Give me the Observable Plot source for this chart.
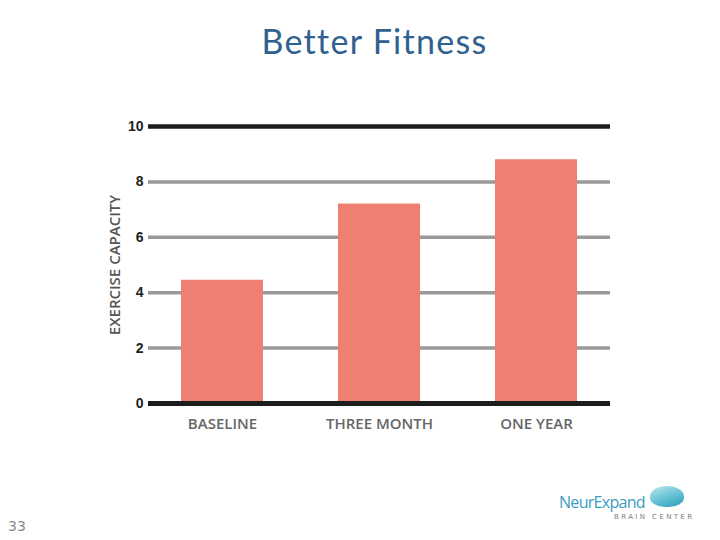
<!DOCTYPE html>
<html>
<head>
<meta charset="utf-8">
<script src="https://cdn.jsdelivr.net/npm/d3@7"></script>
<script src="https://cdn.jsdelivr.net/npm/@observablehq/plot@0.6"></script>
<style>
  html, body { margin: 0; padding: 0; background: #fff; }
  #page { position: relative; width: 720px; height: 540px; overflow: hidden; font-family: "Open Sans", sans-serif; }
  #title { height: 80px; line-height: 82px; text-align: center; padding-left: 29px; box-sizing: border-box; font-family: Lato, "Open Sans", sans-serif; font-size: 34px; letter-spacing: 1.3px; color: #2f6190; }
  #chart svg { display: block; }
  #pagenum { position: absolute; left: 8px; top: 518px; font-family: "DejaVu Sans", sans-serif; font-size: 14px; color: #8a8a8a; }
  #logo { position: absolute; left: 559px; top: 490px; width: 150px; height: 40px; }
  #logo .name { position: absolute; left: 0; top: 1px; font-family: "Open Sans", sans-serif; font-size: 16px; letter-spacing: -0.7px; color: #3d9cbf; }
  #logo .sub { position: absolute; left: 55px; top: 23px; font-family: "DejaVu Sans", sans-serif; font-size: 7px; letter-spacing: 2.4px; color: #7d7d7d; }
  #logo .icon { position: absolute; left: 91px; top: -4px; width: 34px; height: 21px; border-radius: 50% 50% 45% 45%; background: linear-gradient(160deg, #bfe6ee 0%, #62c0d3 55%, #2b9bb8 100%); }
</style>
</head>
<body>
<div id="page">
  <div id="title">Better Fitness</div>
  <div id="chart"></div>
  <div id="pagenum">33</div>
  <div id="logo"><div class="icon"></div><div class="name">NeurExpand</div><div class="sub">BRAIN CENTER</div></div>
</div>
<script>
const categories = ["BASELINE", "THREE MONTH", "ONE YEAR"];
const values = [4.45, 7.2, 8.8];
const yTicks = [0, 2, 4, 6, 8, 10];
const gridValues = [2, 4, 6, 8];
const yLabel = ["EXERCISE CAPACITY"];

const data = categories.map((c, i) => ({category: c, value: values[i]}));

const chart = Plot.plot({
  width: 720,
  height: 360,
  marginLeft: 148,
  marginRight: 110,
  marginTop: 46,
  marginBottom: 37,
  style: {fontFamily: "'Open Sans', sans-serif", background: "transparent"},
  x: {domain: categories, paddingInner: 0.48, paddingOuter: 0.21, label: null},
  y: {domain: [0, 10], label: null},
  marks: [
    Plot.ruleY(gridValues, {stroke: "#9a9a9a", strokeWidth: 3.5}),
    Plot.ruleY([10], {stroke: "#1c1c1c", strokeWidth: 4.5}),
    Plot.barY(data, {x: "category", y: "value", fill: "#ef7f70"}),
    Plot.ruleY([0], {stroke: "#1c1c1c", strokeWidth: 5}),
    Plot.axisY({ticks: yTicks, tickSize: 0, tickPadding: 5, label: null,
      fontSize: 14, fontWeight: "bold", fill: "#222", fontFamily: "'Liberation Sans', sans-serif"}),
    Plot.axisX({tickSize: 0, tickPadding: 15, label: null, fontSize: 15, fill: "#666", fontWeight: 600}),
    Plot.text(yLabel, {frameAnchor: "left", textAnchor: "middle", rotate: -90, dx: -33, fontSize: 15, fontWeight: 600,
      fill: "#555", letterSpacing: "0.9px"})
  ]
});
document.getElementById("chart").appendChild(chart);
</script>
</body>
</html>
